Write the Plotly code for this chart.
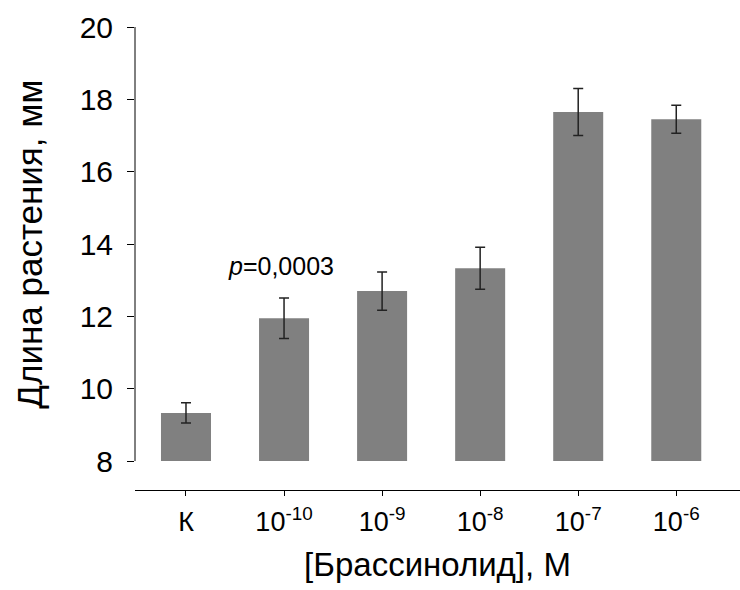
import plotly.graph_objects as go

categories = ["К", "10<sup>-10</sup>", "10<sup>-9</sup>", "10<sup>-8</sup>", "10<sup>-7</sup>", "10<sup>-6</sup>"]
means = [9.33, 11.95, 12.70, 13.33, 17.65, 17.45]
errors = [0.28, 0.56, 0.53, 0.58, 0.65, 0.39]
y_ticks = [8, 10, 12, 14, 16, 18, 20]
base_value = 8
p_label = "<i>p</i>=0,0003"

FONT = "Liberation Sans, Arial, sans-serif"
xs = list(range(len(categories)))

fig = go.Figure()
fig.add_trace(go.Bar(
    x=xs, y=[m - base_value for m in means], base=base_value,
    width=0.51, marker=dict(color="#808080", line=dict(width=0)),
    showlegend=False, hoverinfo="skip"))
fig.add_trace(go.Scatter(
    x=xs, y=means, mode="markers", marker=dict(opacity=0, size=1),
    error_y=dict(type="data", array=errors, visible=True, color="#222222",
                 thickness=1.5, width=5),
    showlegend=False, hoverinfo="skip"))

fig.add_shape(type="line", xref="paper", yref="y", x0=0, x1=0,
              y0=base_value, y1=20, line=dict(color="black", width=1))

fig.add_annotation(x=0.97, y=13.4, xref="x", yref="y", text=p_label,
                   showarrow=False, font=dict(family=FONT, size=25, color="black"))
fig.add_annotation(x=-0.175, y=0.53, xref="paper", yref="paper",
                   text="Длина растения, мм", textangle=-90, showarrow=False,
                   xanchor="center", yanchor="middle",
                   font=dict(family=FONT, size=35, color="black"))

fig.update_layout(
    width=740, height=590,
    margin=dict(l=135, r=0, t=27, b=100),
    plot_bgcolor="white", paper_bgcolor="white",
    font=dict(family=FONT, size=24, color="black"),
    xaxis=dict(range=[-0.52, 5.65], tickmode="array", tickvals=xs, ticktext=categories,
               showline=True, linecolor="black", linewidth=1,
               ticks="outside", ticklen=5, tickcolor="black",
               tickfont=dict(family=FONT, size=27, color="black"),
               ticklabelstandoff=3,
               showgrid=False, zeroline=False,
               title=dict(text="[Брассинолид], М",
                          font=dict(family=FONT, size=33, color="black"), standoff=16)),
    yaxis=dict(range=[7.2, 20], tickmode="array", tickvals=y_ticks,
               showline=False, ticks="outside", ticklen=7, tickcolor="black",
               tickfont=dict(family=FONT, size=30, color="black"),
               ticklabelstandoff=8,
               showgrid=False, zeroline=False),
)

fig.write_html("out.html")
